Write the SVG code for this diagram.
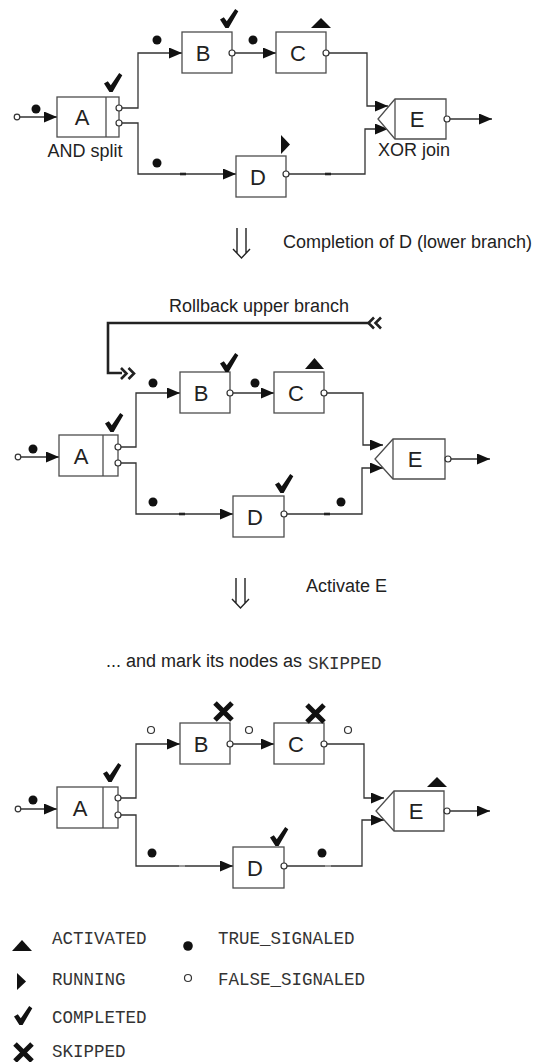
<svg xmlns="http://www.w3.org/2000/svg" width="536" height="1062" viewBox="0 0 536 1062">
<defs>
<style>
.box{fill:#fff;stroke:#4d4d4d;stroke-width:1.3}
.ln{fill:none;stroke:#333;stroke-width:1.3}
.port{fill:#fff;stroke:#333;stroke-width:1.2}
.dot{fill:#111}
.hdot{fill:#fff;stroke:#333;stroke-width:1.2}
.lbl{font-family:"Liberation Sans",Arial,sans-serif;font-size:22px;fill:#222;text-anchor:middle}
.txt{font-family:"Liberation Sans",Arial,sans-serif;font-size:18px;fill:#222}
.mid{text-anchor:middle}
.mono{font-family:"Liberation Mono","Courier New",monospace;font-size:17.5px;fill:#333}
.sym{fill:#111}
.thick{fill:none;stroke:#222;stroke-width:2.6}
.dash{stroke:#222;stroke-width:2.6}
.fdash{stroke:#aaa;stroke-width:1.6}
.dbl{fill:none;stroke:#222;stroke-width:1.4}
</style>
<marker id="ah" markerWidth="13" markerHeight="11" refX="13" refY="5.5" orient="auto" markerUnits="userSpaceOnUse"><path d="M0,0 L13,5.5 L0,11 Z" fill="#111"/></marker>
<path id="chk" d="M0,10.5 L3.8,8.3 L6.8,12.3 L15.2,0 L18.3,2.2 L8.6,19 L5.4,19 Z"/>
<path id="xm" d="M0,0 L17,17 M17,0 L0,17" fill="none" stroke="#111" stroke-width="5"/>
</defs>
<rect width="536" height="1062" fill="#fff"/>

<!-- ============ Diagram 1 ============ -->
<g id="connectors-1">
<path class="ln" d="M20,117 H57" marker-end="url(#ah)"/>
<path class="ln" d="M122,108 H138 V53 H182" marker-end="url(#ah)"/>
<path class="ln" d="M235,53 H276" marker-end="url(#ah)"/>
<path class="ln" d="M329,53 H367 V106 H388" marker-end="url(#ah)"/>
<path class="ln" d="M122,123 H138 V174 H236" marker-end="url(#ah)"/>
<path class="ln" d="M289,174 H365 V129 H388" marker-end="url(#ah)"/>
<path class="ln" d="M450,119 H492" marker-end="url(#ah)"/>
<line class="dash" x1="180" y1="174" x2="186" y2="174"/>
<line class="dash" x1="325" y1="174" x2="331" y2="174"/>
<circle class="port" cx="17" cy="117" r="2.8"/>
<circle class="dot" cx="36" cy="109" r="4.5"/>
<circle class="dot" cx="157" cy="40" r="4.5"/>
<circle class="dot" cx="253" cy="40" r="4.5"/>
<circle class="dot" cx="157" cy="163" r="4.5"/>
</g>
<g id="d1-A">
<rect class="box" x="57" y="97" width="62" height="40"/>
<line class="box" x1="106" y1="97" x2="106" y2="137"/>
<text class="lbl" x="82" y="125">A</text>
<circle class="port" cx="119" cy="108" r="3"/>
<circle class="port" cx="119" cy="123" r="3"/>
<use href="#chk" x="104" y="73" class="sym"/>
<text class="txt mid" x="85" y="157">AND split</text>
</g>
<g id="d1-B">
<rect class="box" x="182" y="32" width="50" height="41"/>
<text class="lbl" x="203" y="61">B</text>
<circle class="port" cx="232" cy="53" r="3"/>
<use href="#chk" x="220" y="9" class="sym"/>
</g>
<g id="d1-C">
<rect class="box" x="276" y="32" width="50" height="41"/>
<text class="lbl" x="298" y="61">C</text>
<circle class="port" cx="326" cy="53" r="3"/>
<polygon class="sym" points="311,28 331,28 321,18"/>
</g>
<g id="d1-D">
<rect class="box" x="236" y="156" width="50" height="41"/>
<text class="lbl" x="258" y="185">D</text>
<circle class="port" cx="286" cy="174" r="3"/>
<polygon class="sym" points="281,135 281,154 290,144.5"/>
</g>
<g id="d1-E">
<path class="box" d="M395,99 H446 V139 H395 L378,119 Z"/>
<line class="box" x1="395" y1="99" x2="395" y2="139"/>
<text class="lbl" x="417" y="127">E</text>
<circle class="port" cx="447" cy="119" r="3"/>
<text class="txt mid" x="414" y="156">XOR join</text>
</g>

<g id="step-1">
<path class="dbl" d="M237,228 V253 M246,228 V253 M233,249 L241.5,258 L250,249"/>
<text class="txt" x="283" y="248">Completion of D (lower branch)</text>
</g>

<!-- ============ Diagram 2 ============ -->
<g id="rollback">
<text class="txt mid" x="259" y="312">Rollback upper branch</text>
<path class="thick" d="M369,323 H108 V373 H122"/>
<path class="thick" d="M374,317.5 L368.5,323 L374,328.5 M381,317.5 L375.5,323 L381,328.5"/>
<path class="thick" d="M121,368 L126.5,373.5 L121,379 M128.5,368 L134,373.5 L128.5,379"/>
</g>
<g id="connectors-2">
<path class="ln" d="M21,457 H59" marker-end="url(#ah)"/>
<path class="ln" d="M121,447 H136 V393 H180" marker-end="url(#ah)"/>
<path class="ln" d="M233,393 H274" marker-end="url(#ah)"/>
<path class="ln" d="M327,393 H363 V445 H383" marker-end="url(#ah)"/>
<path class="ln" d="M121,463 H136 V514 H233" marker-end="url(#ah)"/>
<path class="ln" d="M287,514 H362 V468 H383" marker-end="url(#ah)"/>
<path class="ln" d="M451,459 H490" marker-end="url(#ah)"/>
<line class="dash" x1="179" y1="514" x2="185" y2="514"/>
<line class="dash" x1="324" y1="514" x2="330" y2="514"/>
<circle class="port" cx="18" cy="457" r="2.8"/>
<circle class="dot" cx="33" cy="449" r="4.5"/>
<circle class="dot" cx="153" cy="383" r="4.5"/>
<circle class="dot" cx="255" cy="383" r="4.5"/>
<circle class="dot" cx="153" cy="502" r="4.5"/>
<circle class="dot" cx="341" cy="502" r="4.5"/>
</g>
<g id="d2-A">
<rect class="box" x="59" y="435" width="59" height="41"/>
<line class="box" x1="103" y1="435" x2="103" y2="476"/>
<text class="lbl" x="81" y="464">A</text>
<circle class="port" cx="118" cy="447" r="3"/>
<circle class="port" cx="118" cy="463" r="3"/>
<use href="#chk" x="105" y="413" class="sym"/>
</g>
<g id="d2-B">
<rect class="box" x="180" y="372" width="50" height="41"/>
<text class="lbl" x="201" y="401">B</text>
<circle class="port" cx="230" cy="393" r="3"/>
<use href="#chk" x="220" y="353" class="sym"/>
</g>
<g id="d2-C">
<rect class="box" x="274" y="372" width="50" height="41"/>
<text class="lbl" x="296" y="401">C</text>
<circle class="port" cx="324" cy="393" r="3"/>
<polygon class="sym" points="305,369 324,369 314.5,358"/>
</g>
<g id="d2-D">
<rect class="box" x="233" y="496" width="51" height="41"/>
<text class="lbl" x="255" y="525">D</text>
<circle class="port" cx="284" cy="514" r="3"/>
<use href="#chk" x="275" y="474" class="sym"/>
</g>
<g id="d2-E">
<path class="box" d="M393,439 H445 V479 H393 L375,459 Z"/>
<line class="box" x1="393" y1="439" x2="393" y2="479"/>
<text class="lbl" x="415" y="467">E</text>
<circle class="port" cx="448" cy="459" r="3"/>
</g>

<g id="step-2">
<path class="dbl" d="M236,578 V603 M245,578 V603 M232,599 L240.5,608 L249,599"/>
<text class="txt" x="306" y="592">Activate E</text>
<text class="txt" x="106" y="667">... and mark its nodes as </text>
<text class="mono" x="308" y="669">SKIPPED</text>
</g>

<!-- ============ Diagram 3 ============ -->
<g id="connectors-3">
<path class="ln" d="M21,809 H57" marker-end="url(#ah)"/>
<path class="ln" d="M121,798 H136 V744 H180" marker-end="url(#ah)"/>
<path class="ln" d="M233,744 H274" marker-end="url(#ah)"/>
<path class="ln" d="M327,744 H364 V798 H384" marker-end="url(#ah)"/>
<path class="ln" d="M121,815 H136 V866 H233" marker-end="url(#ah)"/>
<path class="ln" d="M287,866 H362 V820 H384" marker-end="url(#ah)"/>
<path class="ln" d="M450,811 H490" marker-end="url(#ah)"/>
<line class="fdash" x1="179" y1="866" x2="185" y2="866"/>
<line class="fdash" x1="325" y1="866" x2="331" y2="866"/>
<circle class="port" cx="18" cy="809" r="2.8"/>
<circle class="dot" cx="33" cy="800" r="4.5"/>
<circle class="hdot" cx="151" cy="730" r="3.5"/>
<circle class="hdot" cx="249" cy="730" r="3.5"/>
<circle class="hdot" cx="348" cy="730" r="3.5"/>
<circle class="dot" cx="152" cy="853" r="4.5"/>
<circle class="dot" cx="322" cy="853" r="4.5"/>
</g>
<g id="d3-A">
<rect class="box" x="57" y="787" width="61" height="41"/>
<line class="box" x1="103" y1="787" x2="103" y2="828"/>
<text class="lbl" x="80" y="816">A</text>
<circle class="port" cx="118" cy="798" r="3"/>
<circle class="port" cx="118" cy="815" r="3"/>
<use href="#chk" x="103" y="763" class="sym"/>
</g>
<g id="d3-B">
<rect class="box" x="180" y="723" width="50" height="41"/>
<text class="lbl" x="201" y="752">B</text>
<circle class="port" cx="230" cy="744" r="3"/>
<use href="#xm" x="215" y="703"/>
</g>
<g id="d3-C">
<rect class="box" x="274" y="723" width="50" height="41"/>
<text class="lbl" x="296" y="752">C</text>
<circle class="port" cx="324" cy="744" r="3"/>
<use href="#xm" x="307" y="705"/>
</g>
<g id="d3-D">
<rect class="box" x="233" y="847" width="51" height="41"/>
<text class="lbl" x="255" y="876">D</text>
<circle class="port" cx="284" cy="866" r="3"/>
<use href="#chk" x="270" y="827" class="sym"/>
</g>
<g id="d3-E">
<path class="box" d="M394,791 H444 V831 H394 L376,811 Z"/>
<line class="box" x1="394" y1="791" x2="394" y2="831"/>
<text class="lbl" x="416" y="819">E</text>
<circle class="port" cx="447" cy="811" r="3"/>
<polygon class="sym" points="427,787 447,787 437,777"/>
</g>

<!-- ============ Legend ============ -->
<g id="legend">
<polygon class="sym" points="12,951 32,951 22,940"/>
<text class="mono" x="52" y="944">ACTIVATED</text>
<circle class="dot" cx="188" cy="946" r="4.8"/>
<text class="mono" x="218" y="944">TRUE_SIGNALED</text>
<polygon class="sym" points="17,973 17,990 26,981.5"/>
<text class="mono" x="52" y="985">RUNNING</text>
<circle class="hdot" cx="188" cy="978" r="3.5"/>
<text class="mono" x="218" y="985">FALSE_SIGNALED</text>
<use href="#chk" x="14" y="1006" class="sym"/>
<text class="mono" x="52" y="1023">COMPLETED</text>
<use href="#xm" x="15" y="1044"/>
<text class="mono" x="52" y="1057">SKIPPED</text>
</g>
</svg>
